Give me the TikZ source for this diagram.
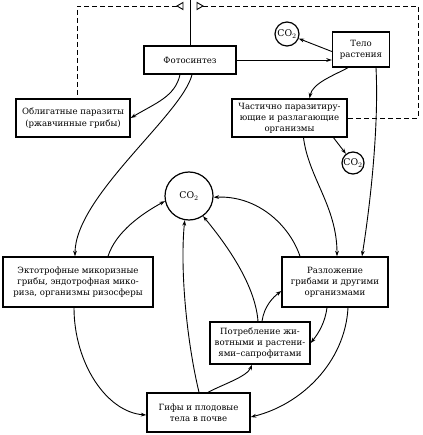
\documentclass[tikz,border=0pt]{standalone}
\usepackage{fontspec}
\setmainfont{DejaVu Serif}
\usetikzlibrary{arrows.meta}
\begin{document}
\begin{tikzpicture}[x=1pt,y=-1pt,
  box/.style={draw, line width=1.4pt, align=center, inner sep=1pt, font=\fontsize{8.6}{11.2}\selectfont},
  co/.style={draw, circle, line width=1.2pt, inner sep=0pt, font=\fontsize{9.3}{10}\selectfont},
  arr/.style={line width=0.9pt, -{Stealth[length=5.5pt,width=3.8pt]}},
  ln/.style={line width=0.9pt},
  dsh/.style={line width=0.9pt, dash pattern=on 5pt off 3pt}]
\useasboundingbox (0,0) rectangle (422,435);
% nodes
\node[box, minimum width=92pt, minimum height=28pt] (foto) at (190,60) {Фотосинтез};
\node[box, minimum width=57pt, minimum height=35pt] (telo) at (361,49.5) {Тело\\растения};
\node[co, minimum size=24pt] (co2a) at (287,34) {CO$_2$};
\node[box, minimum width=114pt, minimum height=38pt] (oblig) at (73,118) {Облигатные паразиты\\(ржавчинные грибы)};
\node[box, minimum width=115pt, minimum height=38pt] (chast) at (289.5,118) {Частично паразитиру-\\ющие и разлагающие\\организмы};
\node[co, minimum size=22pt] (co2b) at (353,163) {CO$_2$};
\node[co, minimum size=48pt] (co2big) at (189,196) {CO$_2$};
\node[box, minimum width=150pt, minimum height=50pt] (ekto) at (78,282) {Эктотрофные микоризные\\грибы, эндотрофная мико-\\риза, организмы ризосферы};
\node[box, minimum width=106pt, minimum height=50pt] (razl) at (335,282) {Разложение\\грибами и другими\\организмами};
\node[box, minimum width=100pt, minimum height=42pt] (potr) at (260,343) {Потребление жи-\\вотными и растени-\\ями--сапрофитами};
\node[box, minimum width=103pt, minimum height=39pt] (gify) at (198.5,412.5) {Гифы и плодовые\\тела в почве};
% top feedback
\coordinate (top) at (190,0);
\coordinate (tl) at (177,6);
\coordinate (tr) at (203,6);
\coordinate (cr) at (418,6);
\draw[ln] (foto.north) -- (foto.north |- top);
\draw[ln] (183,2.5) -- (tl) -- (183,9.5) -- cycle;
\draw[ln] (197,2.5) -- (tr) -- (197,9.5) -- cycle;
\draw[dsh] (tl) -| ([xshift=4pt]oblig.north);
\draw[dsh] (tr) -- (cr) |- (chast.east);
% connectors
\draw[arr] (foto.east) -- (foto.east -| telo.west);
\draw[arr] ([yshift=-2pt]telo.west) -- (co2a);
\draw[arr] ([xshift=-10pt]foto.south) .. controls +(-5,22) and +(25,-15) .. (oblig.east);
\draw[arr] ([xshift=2pt]foto.south) .. controls +(-10,40) and +(0,-60) .. ([xshift=-3pt]ekto.north);
\draw[arr] ([xshift=-13pt]telo.south) .. controls +(-15,8) and +(3,-15) .. ([xshift=20pt]chast.north);
\draw[arr] ([xshift=15pt]telo.south) .. controls +(3,60) and +(8,-50) .. ([xshift=27pt]razl.north);
\draw[arr] ([xshift=44pt]chast.south) -- (co2b);
\draw[arr] ([xshift=14pt]chast.south) .. controls +(5,40) and +(0,-50) .. ([xshift=2pt]razl.north);
\draw[arr] ([xshift=30pt]ekto.north) .. controls +(8,-25) and +(-22,12) .. (co2big.192);
\draw[arr] ([xshift=-35pt]razl.north) .. controls +(-10,-30) and +(45,-2) .. (co2big.-3);
\draw[arr] ([xshift=0.5pt]gify.north) .. controls +(-12,-50) and +(-5,50) .. (co2big.260);
\draw[arr] ([xshift=-2pt]potr.north) .. controls +(-3,-40) and +(18,22) .. (co2big.305);
\draw[arr] ([xshift=2pt]potr.north) .. controls +(2,-15) and +(-8,6) .. ([yshift=-9pt]razl.west);
\draw[arr] ([xshift=-4pt]ekto.south) .. controls +(0,55) and +(-40,-3) .. ([yshift=-2.5pt]gify.west);
\draw[arr] ([xshift=13pt]razl.south) .. controls +(-3,55) and +(50,-12) .. ([yshift=-4.5pt]gify.east);
\draw[arr] ([xshift=-8pt]razl.south) .. controls +(-2,15) and +(8,-10) .. (potr.east);
\draw[arr] ([xshift=9.5pt]gify.north) .. controls +(15,-8) and +(-5,12) .. ([xshift=-8pt]potr.south);
\end{tikzpicture}
\end{document}
